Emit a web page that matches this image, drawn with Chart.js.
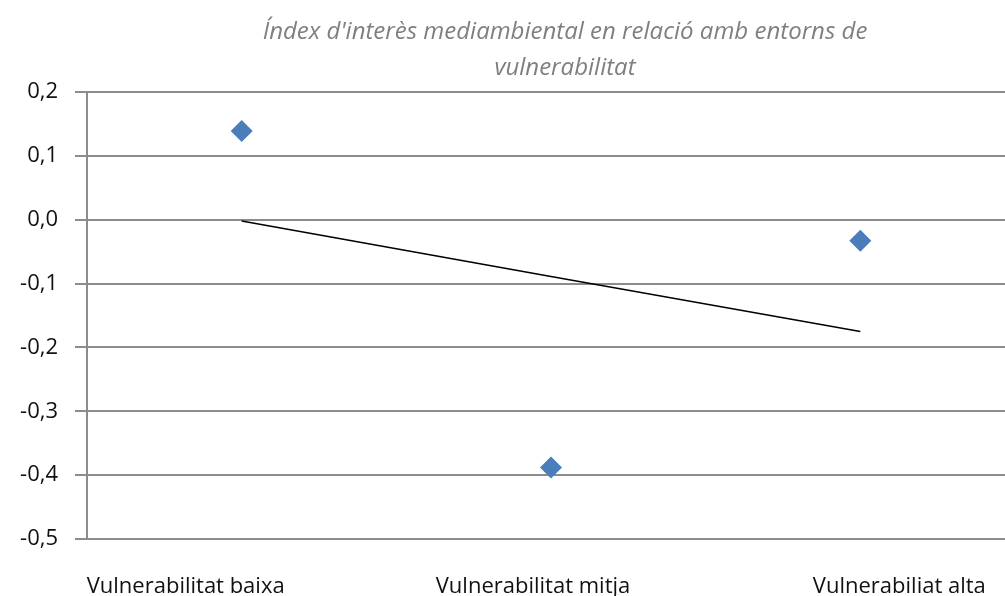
<!DOCTYPE html>
<html>
<head>
<meta charset="utf-8">
<script src="https://cdn.jsdelivr.net/npm/chart.js@4"></script>
<style>
  html, body { margin: 0; padding: 0; background: #fff; overflow: hidden; }
  #wrap { width: 1130px; height: 600px; }
</style>
</head>
<body>
<div id="wrap"><canvas id="chart" width="1130" height="600"></canvas></div>
<script>
const categories = ['Vulnerabilitat baixa', 'Vulnerabilitat mitja', 'Vulnerabiliat alta'];
const indexValues = [0.139, -0.388, -0.033];
const trendValues = [-0.002, -0.089, -0.175];
const titleLines = ["Índex d'interès mediambiental en relació amb entorns de", 'vulnerabilitat'];

const gridColor = '#8c8c8c';
const textFont = '22px "Open Sans"';

// Excel places the category labels a bit off their tick centres; mimic that
const labelShift = [-56, -18, 39];

const excelText = {
    id: 'excelText',
    afterDraw(chart) {
        const ctx = chart.ctx;
        const x = chart.scales.x;
        ctx.save();
        ctx.fillStyle = '#7f7f7f';
        ctx.font = 'italic 24px "Open Sans"';
        ctx.textAlign = 'center';
        ctx.textBaseline = 'middle';
        ctx.fillText(titleLines[0], 565, 32);
        ctx.fillText(titleLines[1], 565, 68);

        ctx.fillStyle = '#111';
        ctx.font = textFont;
        ctx.textBaseline = 'alphabetic';
        categories.forEach((c, i) => {
            ctx.fillText(c, x.getPixelForTick(i) + labelShift[i], 593);
        });
        ctx.restore();
    }
};

new Chart(document.getElementById('chart'), {
    type: 'line',
    data: {
        labels: categories,
        datasets: [{
            label: 'Índex',
            data: indexValues,
            showLine: false,
            pointStyle: 'rectRot',
            pointRadius: 11,
            backgroundColor: '#4a7ebb',
            borderColor: '#4a7ebb',
            borderWidth: 0
        }, {
            label: 'Tendència',
            data: trendValues,
            borderColor: '#000',
            borderWidth: 1.5,
            pointRadius: 0,
            fill: false
        }]
    },
    options: {
        responsive: false,
        animation: false,
        layout: {padding: {left: 0, right: 115, top: 92, bottom: 0}},
        plugins: {
            legend: {display: false},
            tooltip: {enabled: false},
            title: {display: false}
        },
        scales: {
            x: {
                offset: true,
                grid: {display: false},
                border: {display: false},
                ticks: {display: false},
                afterFit: s => { s.height = 61; }
            },
            y: {
                min: -0.5,
                max: 0.2,
                afterFit: s => { s.width = 87; },
                grid: {color: gridColor, lineWidth: 2, tickLength: 12},
                border: {display: true, color: gridColor, width: 2},
                ticks: {
                    stepSize: 0.1,
                    color: '#111',
                    padding: 17,
                    font: {family: 'Open Sans', size: 22},
                    callback: v => (Math.abs(v) < 1e-9 ? 0 : v).toFixed(1).replace('.', ',')
                }
            }
        }
    },
    plugins: [excelText]
});
</script>
</body>
</html>
